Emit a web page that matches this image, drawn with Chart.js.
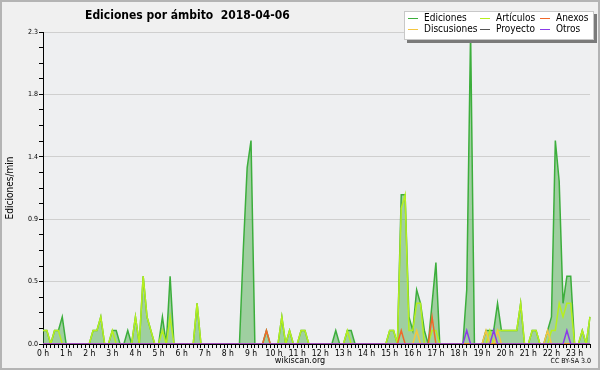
<!DOCTYPE html>
<html>
<head>
<meta charset="utf-8">
<title>Ediciones por ámbito 2018-04-06</title>
<script src="https://cdn.jsdelivr.net/npm/chart.js@4.4.0/dist/chart.umd.min.js"></script>
<style>
  html, body { margin: 0; padding: 0; background: #f0f0f0; }
  #wrap { width: 600px; height: 370px; }
</style>
</head>
<body>
<div id="wrap"><canvas id="chart" width="600" height="370"></canvas></div>
<script>
// Hour labels for the x axis (one category every 10 minutes, 0:00 to 23:40)
const hourLabels = ['0 h', '1 h', '2 h', '3 h', '4 h', '5 h', '6 h', '7 h', '8 h', '9 h', '10 h', '11 h',
    '12 h', '13 h', '14 h', '15 h', '16 h', '17 h', '18 h', '19 h', '20 h', '21 h', '22 h', '23 h'];

// Y axis ticks
const yMajorTicks = [0, 0.46, 0.92, 1.38, 1.84, 2.3];
const yTickLabels = ['0.0', '0.5', '0.9', '1.4', '1.8', '2.3'];

// Edits per minute, one value per 10 minutes (6 per line = 1 hour)
const ediciones = [
    0.1, 0.1, 0, 0.1, 0.1, 0.2,
    0, 0, 0, 0, 0, 0,
    0, 0.1, 0.1, 0.2, 0, 0,
    0.1, 0.1, 0, 0, 0.1, 0,
    0.2, 0, 0.5, 0.2, 0.1, 0,
    0, 0.2, 0, 0.5, 0, 0,
    0, 0, 0, 0, 0.3, 0,
    0, 0, 0, 0, 0, 0,
    0, 0, 0, 0, 0.7, 1.3,
    1.5, 0, 0, 0, 0.1, 0,
    0, 0, 0.2, 0, 0.1, 0,
    0, 0.1, 0.1, 0, 0, 0,
    0, 0, 0, 0, 0.1, 0,
    0, 0.1, 0.1, 0, 0, 0,
    0, 0, 0, 0, 0, 0,
    0.1, 0.1, 0, 1.1, 1.1, 0.2,
    0.1, 0.4, 0.3, 0.1, 0, 0.3,
    0.6, 0, 0, 0, 0, 0,
    0, 0, 0.4, 2.3, 0, 0,
    0, 0.1, 0.1, 0.1, 0.3, 0.1,
    0.1, 0.1, 0.1, 0.1, 0.3, 0,
    0, 0.1, 0.1, 0, 0, 0.1,
    0.2, 1.5, 1.2, 0.3, 0.5, 0.5,
    0, 0, 0.1, 0, 0.2
];
const articulos = [
    0.1, 0.1, 0, 0.1, 0.1, 0,
    0, 0, 0, 0, 0, 0,
    0, 0.1, 0.1, 0.2, 0, 0,
    0.1, 0, 0, 0, 0, 0,
    0.2, 0, 0.5, 0.2, 0.1, 0,
    0, 0.1, 0, 0.2, 0, 0,
    0, 0, 0, 0, 0.3, 0,
    0, 0, 0, 0, 0, 0,
    0, 0, 0, 0, 0, 0,
    0, 0, 0, 0, 0, 0,
    0, 0, 0.2, 0, 0.1, 0,
    0, 0.1, 0.1, 0, 0, 0,
    0, 0, 0, 0, 0, 0,
    0, 0.1, 0, 0, 0, 0,
    0, 0, 0, 0, 0, 0,
    0.1, 0.1, 0, 1.0, 1.1, 0.1,
    0.1, 0.3, 0.3, 0, 0, 0.1,
    0.1, 0, 0, 0, 0, 0,
    0, 0, 0, 0, 0, 0,
    0, 0, 0.1, 0, 0.1, 0.1,
    0.1, 0.1, 0.1, 0.1, 0.3, 0,
    0, 0.1, 0.1, 0, 0, 0,
    0.1, 0.1, 0.3, 0.2, 0.3, 0.3,
    0, 0, 0.1, 0, 0.2
];
const anexos = [
    0, 0, 0, 0, 0, 0,
    0, 0, 0, 0, 0, 0,
    0, 0, 0, 0, 0, 0,
    0, 0, 0, 0, 0, 0,
    0, 0, 0, 0, 0, 0,
    0, 0, 0, 0, 0, 0,
    0, 0, 0, 0, 0, 0,
    0, 0, 0, 0, 0, 0,
    0, 0, 0, 0, 0, 0,
    0, 0, 0, 0, 0.1, 0,
    0, 0, 0, 0, 0, 0,
    0, 0, 0, 0, 0, 0,
    0, 0, 0, 0, 0, 0,
    0, 0, 0, 0, 0, 0,
    0, 0, 0, 0, 0, 0,
    0, 0, 0, 0.1, 0, 0,
    0, 0, 0, 0, 0, 0.2,
    0, 0, 0, 0, 0, 0,
    0, 0, 0, 0, 0, 0,
    0, 0, 0, 0, 0, 0,
    0, 0, 0, 0, 0, 0,
    0, 0, 0, 0, 0, 0,
    0, 0, 0, 0, 0, 0,
    0, 0, 0, 0, 0
];
const discusiones = [
    0, 0, 0, 0, 0, 0,
    0, 0, 0, 0, 0, 0,
    0, 0, 0, 0, 0, 0,
    0, 0, 0, 0, 0, 0,
    0, 0, 0, 0, 0, 0,
    0, 0, 0, 0, 0, 0,
    0, 0, 0, 0, 0, 0,
    0, 0, 0, 0, 0, 0,
    0, 0, 0, 0, 0, 0,
    0, 0, 0, 0, 0, 0,
    0, 0, 0, 0, 0, 0,
    0, 0, 0, 0, 0, 0,
    0, 0, 0, 0, 0, 0,
    0, 0, 0, 0, 0, 0,
    0, 0, 0, 0, 0, 0,
    0, 0, 0, 0, 0, 0,
    0, 0.1, 0, 0, 0, 0,
    0, 0, 0, 0, 0, 0,
    0, 0, 0, 0, 0, 0,
    0, 0.1, 0, 0, 0.1, 0,
    0, 0, 0, 0, 0, 0,
    0, 0, 0, 0, 0, 0.1,
    0, 0, 0, 0, 0, 0,
    0, 0, 0, 0, 0
];
const proyecto = [
    0, 0, 0, 0, 0, 0,
    0, 0, 0, 0, 0, 0,
    0, 0, 0, 0, 0, 0,
    0, 0, 0, 0, 0, 0,
    0, 0, 0, 0, 0, 0,
    0, 0, 0, 0, 0, 0,
    0, 0, 0, 0, 0, 0,
    0, 0, 0, 0, 0, 0,
    0, 0, 0, 0, 0, 0,
    0, 0, 0, 0, 0, 0,
    0, 0, 0, 0, 0, 0,
    0, 0, 0, 0, 0, 0,
    0, 0, 0, 0, 0, 0,
    0, 0, 0, 0, 0, 0,
    0, 0, 0, 0, 0, 0,
    0, 0, 0, 0, 0, 0,
    0, 0, 0, 0, 0, 0,
    0, 0, 0, 0, 0, 0,
    0, 0, 0, 0, 0, 0,
    0, 0, 0, 0, 0, 0,
    0, 0, 0, 0, 0, 0,
    0, 0, 0, 0, 0, 0,
    0, 0, 0, 0, 0, 0,
    0, 0, 0, 0, 0
];
const otros = [
    0, 0, 0, 0, 0, 0,
    0, 0, 0, 0, 0, 0,
    0, 0, 0, 0, 0, 0,
    0, 0, 0, 0, 0, 0,
    0, 0, 0, 0, 0, 0,
    0, 0, 0, 0, 0, 0,
    0, 0, 0, 0, 0, 0,
    0, 0, 0, 0, 0, 0,
    0, 0, 0, 0, 0, 0,
    0, 0, 0, 0, 0, 0,
    0, 0, 0, 0, 0, 0,
    0, 0, 0, 0, 0, 0,
    0, 0, 0, 0, 0, 0,
    0, 0, 0, 0, 0, 0,
    0, 0, 0, 0, 0, 0,
    0, 0, 0, 0, 0, 0,
    0, 0, 0, 0, 0, 0,
    0, 0, 0, 0, 0, 0,
    0, 0, 0.1, 0, 0, 0,
    0, 0, 0, 0.1, 0, 0,
    0, 0, 0, 0, 0, 0,
    0, 0, 0, 0, 0, 0,
    0, 0, 0, 0, 0.1, 0,
    0, 0, 0, 0, 0
];

const FONT = '"DejaVu Sans Condensed", "DejaVu Sans", sans-serif';
const COLORS = {
    ediciones: '#3cae3c',
    articulos: '#b6ef1e',
    anexos: '#f0682a',
    discusiones: '#f4c640',
    proyecto: '#555555',
    otros: '#8a3ce8'
};

// 10 minute categories, hour label on every 6th
const times = [];
for (let i = 0; i < ediciones.length; i++) {
    times.push(Math.floor(i / 6) + ':' + String((i % 6) * 10).padStart(2, '0'));
}

// minor y ticks: 4 per major step
const yTicks = [];
for (let k = 0; k < yMajorTicks.length - 1; k++) {
    const step = (yMajorTicks[k + 1] - yMajorTicks[k]) / 4;
    for (let j = 0; j < 4; j++) yTicks.push(yMajorTicks[k] + j * step);
}
yTicks.push(yMajorTicks[yMajorTicks.length - 1]);

function lineSet(label, data, color, order) {
    return {
        label: label,
        data: data,
        borderColor: color,
        backgroundColor: color,
        borderWidth: 1.5,
        pointRadius: 0,
        tension: 0,
        fill: false,
        order: order
    };
}

// Backgrounds, title, legend box and footer texts
const decor = {
    id: 'decor',
    beforeDraw(chart) {
        const { ctx, chartArea: a } = chart;
        ctx.save();
        ctx.fillStyle = '#f0f0f0';
        ctx.fillRect(0, 0, chart.width, chart.height);
        ctx.fillStyle = '#eeeff1';
        ctx.fillRect(a.left, a.top, a.right - a.left, a.bottom - a.top);
        ctx.restore();
    },
    afterDraw(chart) {
        const ctx = chart.ctx;
        ctx.save();

        // title
        ctx.fillStyle = '#000';
        ctx.font = 'bold 12px ' + FONT;
        ctx.textAlign = 'left';
        ctx.textBaseline = 'alphabetic';
        ctx.fillText('Ediciones por ámbito  2018-04-06', 85, 19);

        // y axis title
        ctx.save();
        ctx.translate(10, 188);
        ctx.rotate(-Math.PI / 2);
        ctx.font = '10px ' + FONT;
        ctx.textAlign = 'center';
        ctx.textBaseline = 'middle';
        ctx.fillText('Ediciones/min', 0, 0);
        ctx.restore();

        // footer
        ctx.font = '9px ' + FONT;
        ctx.textAlign = 'center';
        ctx.textBaseline = 'middle';
        ctx.fillText('wikiscan.org', 300, 361);
        ctx.font = '7px ' + FONT;
        ctx.textAlign = 'right';
        ctx.fillText('CC BY-SA 3.0', 591, 361);

        // legend box with shadow
        ctx.fillStyle = '#7a7a7a';
        ctx.fillRect(407, 14, 190, 29);
        ctx.fillStyle = '#ffffff';
        ctx.fillRect(404, 11, 190, 29);
        ctx.strokeStyle = '#c8c8c8';
        ctx.lineWidth = 1;
        ctx.strokeRect(404.5, 11.5, 189, 28);

        const cols = [408, 480, 540];
        const rows = [18.5, 29.5];
        const items = [
            ['Ediciones', COLORS.ediciones, 0, 0],
            ['Discusiones', COLORS.discusiones, 0, 1],
            ['Artículos', COLORS.articulos, 1, 0],
            ['Proyecto', COLORS.proyecto, 1, 1],
            ['Anexos', COLORS.anexos, 2, 0],
            ['Otros', COLORS.otros, 2, 1]
        ];
        ctx.font = '10px ' + FONT;
        ctx.textAlign = 'left';
        ctx.textBaseline = 'middle';
        items.forEach(([label, color, c, r]) => {
            const x = cols[c];
            const y = rows[r];
            ctx.strokeStyle = color;
            ctx.lineWidth = 1;
            ctx.beginPath();
            ctx.moveTo(x, y);
            ctx.lineTo(x + 10, y);
            ctx.stroke();
            ctx.fillStyle = '#000';
            ctx.fillText(label, x + 16, y);
        });

        // outer border
        ctx.strokeStyle = '#b4b4b4';
        ctx.lineWidth = 2;
        ctx.strokeRect(1, 1, chart.width - 2, chart.height - 2);
        ctx.restore();
    }
};

const edSet = lineSet('Ediciones', ediciones, COLORS.ediciones, 6);
edSet.fill = 'origin';
edSet.backgroundColor = 'rgba(62, 168, 62, 0.45)';

const chart = new Chart(document.getElementById('chart'), {
    type: 'line',
    data: {
        labels: times,
        datasets: [
            edSet,
            lineSet('Artículos', articulos, COLORS.articulos, 5),
            lineSet('Anexos', anexos, COLORS.anexos, 2),
            lineSet('Discusiones', discusiones, COLORS.discusiones, 3),
            lineSet('Proyecto', proyecto, COLORS.proyecto, 4),
            lineSet('Otros', otros, COLORS.otros, 1)
        ]
    },
    options: {
        responsive: false,
        animation: false,
        devicePixelRatio: 1,
        layout: { padding: { left: 0, right: 10, top: 32, bottom: 0 } },
        plugins: {
            legend: { display: false },
            title: { display: false },
            tooltip: { enabled: false }
        },
        scales: {
            x: {
                type: 'category',
                offset: false,
                z: 1,
                afterFit: s => { s.height = 26; },
                ticks: {
                    autoSkip: false,
                    maxRotation: 0,
                    minRotation: 0,
                    padding: 1,
                    color: '#000',
                    font: { family: FONT, size: 8.5 },
                    callback: (v, i) => (i % 6 === 0 ? hourLabels[i / 6] : '')
                },
                grid: { drawOnChartArea: false, tickColor: '#000', tickLength: 4 },
                border: { color: '#000', width: 1 }
            },
            y: {
                min: 0,
                max: 2.3,
                afterFit: s => { s.width = 43; },
                afterBuildTicks: s => { s.ticks = yTicks.map(v => ({ value: v })); },
                ticks: {
                    autoSkip: false,
                    padding: 1,
                    color: '#000',
                    font: { family: FONT, size: 7 },
                    callback: (v, i) => (i % 4 === 0 ? yTickLabels[i / 4] : '')
                },
                grid: {
                    color: c => (c.index % 4 === 0 ? '#cfcfcf' : 'rgba(0,0,0,0)'),
                    tickColor: '#000',
                    tickLength: 4
                },
                border: { color: '#000', width: 1 }
            }
        }
    },
    plugins: [decor]
});
</script>
</body>
</html>
